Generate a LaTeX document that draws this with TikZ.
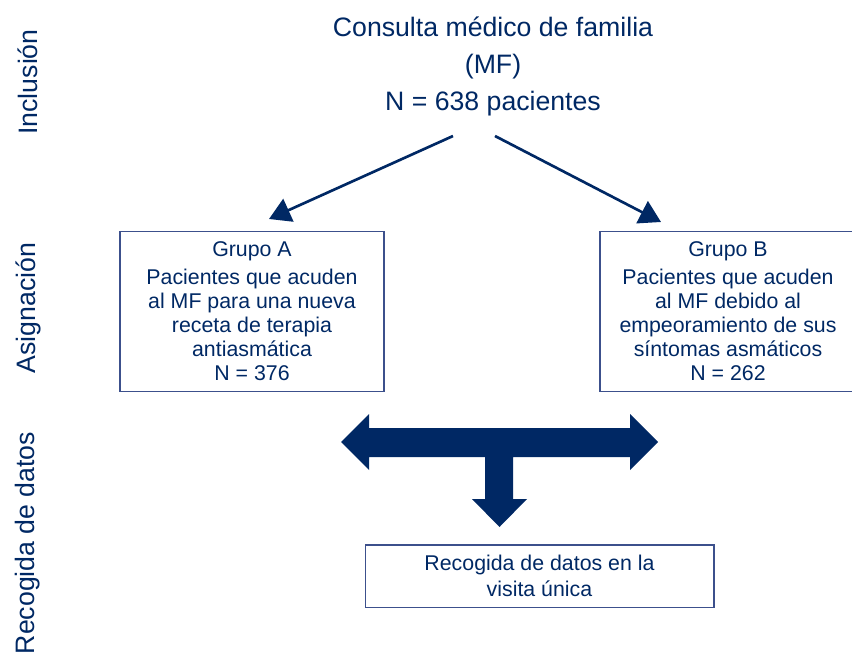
\documentclass[tikz,border=0pt]{standalone}
\usepackage{fontspec}
\setmainfont{Liberation Sans}
\usetikzlibrary{arrows.meta}
\definecolor{navy}{RGB}{0,40,100}
\definecolor{framec}{RGB}{60,80,140}

\begin{document}
\begin{tikzpicture}[
  x=0.75pt, y=-0.75pt,
  text=navy,
  box/.style={draw=framec, line width=0.8pt, align=center, inner sep=0pt},
  grp/.style={box, minimum height=120.4pt, font=\fontsize{16}{18}\selectfont},
  side/.style={rotate=90, font=\fontsize{20}{24}\selectfont},
  arr/.style={navy, line width=2pt, -{Triangle[length=16pt,width=18.5pt]}},
]
  \useasboundingbox (0,0) rectangle (852,656);

  % phase labels
  \node[side] (lblInc)  at (28,82)  {Inclusión};
  \node[side] (lblAsig) at (28,308) {Asignación};
  \node[side] (lblRec)  at (28,543) {Recogida de datos};

  \node[align=center, inner sep=0pt, font=\fontsize{20}{27.75}\selectfont]
    (title) at (493,66) {Consulta médico de familia\\(MF)\\N = 638 pacientes};

  \node[grp, minimum width=198pt] (grpA) at (252,311.3) {%
    Grupo A\\[3pt]
    Pacientes que acuden\\al MF para una nueva\\receta de terapia\\antiasmática\\N = 376};
  \node[grp, minimum width=192pt] (grpB) at (728,311.3) {%
    Grupo B\\[3pt]
    Pacientes que acuden\\al MF debido al\\empeoramiento de sus\\síntomas asmáticos\\N = 262};

  \node[box, minimum width=261.7pt, minimum height=47pt, font=\fontsize{16}{19.5}\selectfont]
    (visita) at (539.5,576.3) {Recogida de datos en la\\visita única};

  \coordinate (outA) at (453,136);
  \coordinate (inA)  at (269,219);
  \coordinate (outB) at (495,136);
  \coordinate (inB)  at (661,222);
  \draw[arr] (outA) -- (inA);
  \draw[arr] (outB) -- (inB);

  % T-shaped block arrow
  \fill[navy] (341,442) -- (369,414) -- (369,428) -- (630,428) -- (630,414)
    -- (658,442) -- (630,470) -- (630,457) -- (513,457) -- (513,499)
    -- (527,499) -- (499.5,527) -- (472,499) -- (485,499) -- (485,457)
    -- (369,457) -- (369,470) -- cycle;
\end{tikzpicture}
\end{document}
